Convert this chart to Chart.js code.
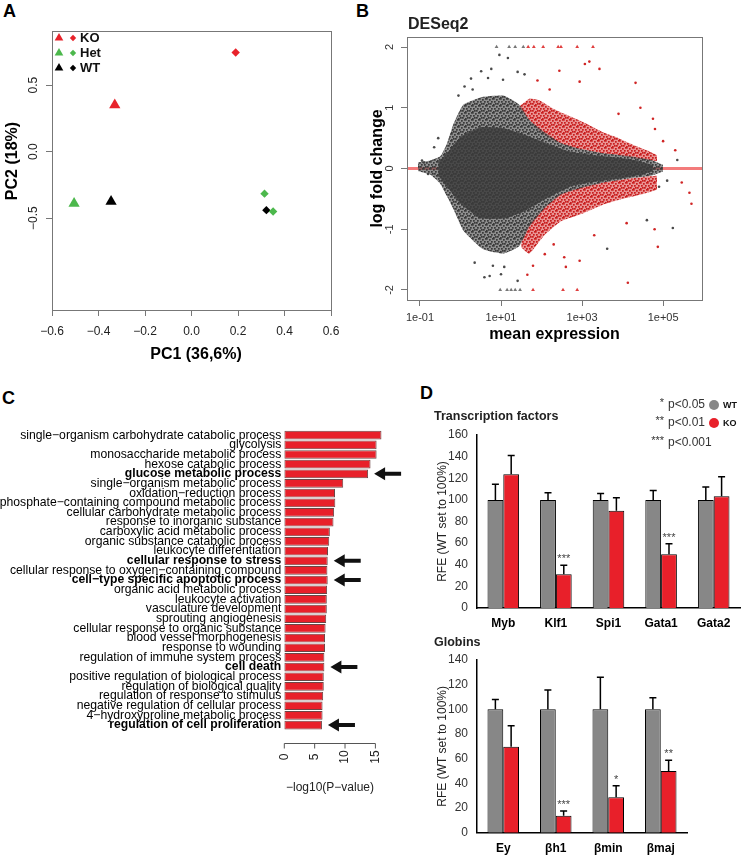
<!DOCTYPE html>
<html>
<head>
<meta charset="utf-8">
<script src="https://cdn.jsdelivr.net/npm/chart.js@4.4.1/dist/chart.umd.min.js"></script>
<style>
  body { margin: 0; background: #fff; width: 742px; height: 855px; position: relative; overflow: hidden;
         font-family: "Liberation Sans", Arial, sans-serif; }
  canvas { position: absolute; }
  .letter { position: absolute; font-weight: bold; font-size: 18px; line-height: 1; }
</style>
</head>
<body>
<div class="letter" style="left:3px;top:2px">A</div>
<div class="letter" style="left:356px;top:2px">B</div>
<div class="letter" style="left:2px;top:389px">C</div>
<div class="letter" style="left:420px;top:384px">D</div>

<canvas id="pca" width="371" height="370" style="left:0;top:0"></canvas>
<canvas id="ma" width="382" height="370" style="left:360px;top:0"></canvas>
<canvas id="go" width="430" height="380" style="left:0;top:420px"></canvas>
<canvas id="tf" width="371" height="245" style="left:371px;top:390px"></canvas>
<canvas id="glob" width="371" height="225" style="left:371px;top:630px"></canvas>

<script>
// ---- A: PCA ----
const pcaGroups = ['KO', 'Het', 'WT'];
const pcaTriPC1 = [-0.33, -0.505, -0.346];
const pcaTriPC2 = [0.35, -0.39, -0.375];
const pcaDiaPC1 = [[0.19], [0.314, 0.351], [0.322]];
const pcaDiaPC2 = [[0.745], [-0.316, -0.45], [-0.44]];
const pcaXTicks = [-0.6, -0.4, -0.2, 0, 0.2, 0.4, 0.6];
const pcaYTicks = [-0.5, 0, 0.5];

// ---- B: MA plot (x = log10 mean expression) ----
const maXTicks = [-1, 1, 3, 5];
const maYTicks = [-2, -1, 0, 1, 2];
const cloudX      = [-1.05, -0.75, -0.5, -0.34, -0.18, 0.07, 0.56, 1.06, 1.45, 1.7, 2.07, 2.48, 2.98, 3.54, 4.2, 4.7, 5.0];
const cloudTop    = [0.1, 0.13, 0.2, 0.4, 0.72, 1.05, 1.18, 1.2, 1.05, 0.8, 0.6, 0.42, 0.32, 0.25, 0.2, 0.14, 0.06];
const cloudBottom = [-0.04, -0.1, -0.25, -0.45, -0.66, -1.02, -1.33, -1.4, -1.28, -0.96, -0.66, -0.43, -0.32, -0.23, -0.16, -0.12, -0.05];
const coreX      = [-0.55, -0.3, 0.0, 0.5, 1.1, 1.6, 2.1, 2.7, 3.3, 3.9, 4.4, 4.75];
const coreTop    = [0.1, 0.28, 0.52, 0.68, 0.66, 0.55, 0.42, 0.28, 0.22, 0.18, 0.12, 0.06];
const coreBottom = [-0.12, -0.33, -0.58, -0.82, -0.82, -0.7, -0.5, -0.3, -0.22, -0.17, -0.11, -0.05];
const upRedX      = [1.45, 1.7, 1.95, 2.3, 2.7, 3.1, 3.5, 3.9, 4.3, 4.6, 4.85];
const upRedTop    = [1.02, 1.15, 1.12, 0.98, 0.86, 0.74, 0.6, 0.5, 0.38, 0.3, 0.22];
const upRedBottom = [1.0, 0.8, 0.62, 0.46, 0.36, 0.3, 0.25, 0.22, 0.17, 0.14, 0.12];
const downRedX      = [1.5, 1.7, 2.07, 2.48, 2.98, 3.5, 4.0, 4.5, 4.85];
const downRedTop    = [-1.2, -0.92, -0.64, -0.42, -0.31, -0.23, -0.18, -0.14, -0.12];
const downRedBottom = [-1.3, -1.4, -1.1, -0.87, -0.75, -0.6, -0.5, -0.42, -0.35];
const grayDotX = [0.26, 0.51, 0.68, 0.76, 0.96, 1.05, 1.17, 1.41, 1.58, 0.1, -0.05, 0.3, 0.59, 0.72, 1.0, 1.08, 1.41, 0.35, 0.8, 5.24, 5.35, 3.62, 4.6, 4.9, 5.1, -0.9, -0.95, -0.8, -0.65, -0.55];
const grayDotY = [1.48, 1.6, 1.49, 1.64, 1.87, 1.46, 1.82, 1.59, 1.55, 1.35, 1.2, 1.3, -1.79, -1.77, -1.74, -1.62, -1.85, -1.55, -1.6, -0.98, 0.14, -1.32, -0.85, -0.3, -0.2, 0.1, 0.13, -0.09, 0.35, 0.5];
const redDotX = [4.32, 4.75, 4.8, 4.44, 5.46, 5.65, 5.7, 4.79, 4.87, 4.13, 3.18, 3.43, 3.07, 2.44, 2.94, 2.56, 2.6, 2.94, 2.08, 1.79, 1.9, 2.2, 3.9, 4.1, 3.3, 2.3, 1.65, 5.3, 5.0];
const redDotY = [1.41, 0.82, 0.65, 1.0, -0.23, -0.4, -0.58, -1.0, -1.29, -1.88, 1.76, 1.64, 1.72, 1.61, 1.43, -1.46, -1.62, -1.52, -1.41, -1.6, 1.45, 1.3, 0.9, -0.9, -1.1, -1.25, -1.75, 0.3, 0.45];
const grayCapX = [0.89, 1.2, 1.35, 1.55, 0.98, 1.15, 1.25, 1.35, 1.47];
const grayCapY = [2, 2, 2, 2, -2, -2, -2, -2, -2];
const redCapX = [1.67, 1.81, 2.04, 2.41, 2.48, 2.88, 3.27, 1.79, 2.53, 2.88];
const redCapY = [2, 2, 2, 2, 2, 2, 2, -2, -2, -2];

// ---- C: GO enrichment ----
const goTerms = [
  'single\u2212organism carbohydrate catabolic process', 'glycolysis', 'monosaccharide metabolic process',
  'hexose catabolic process', 'glucose metabolic process', 'single\u2212organism metabolic process',
  'oxidation\u2212reduction process', 'phosphate\u2212containing compound metabolic process',
  'cellular carbohydrate metabolic process', 'response to inorganic substance', 'carboxylic acid metabolic process',
  'organic substance catabolic process', 'leukocyte differentiation', 'cellular response to stress',
  'cellular response to oxygen\u2212containing compound', 'cell\u2212type specific apoptotic process',
  'organic acid metabolic process', 'leukocyte activation', 'vasculature development', 'sprouting angiogenesis',
  'cellular response to organic substance', 'blood vessel morphogenesis', 'response to wounding',
  'regulation of immune system process', 'cell death', 'positive regulation of biological process',
  'regulation of biological quality', 'regulation of response to stimulus', 'negative regulation of cellular process',
  '4\u2212hydroxyproline metabolic process', 'regulation of cell proliferation'
];
const goLogP = [16.0, 15.2, 15.2, 14.2, 13.8, 9.7, 8.35, 8.4, 8.2, 8.1, 7.5, 7.4, 7.2, 7.15, 7.1, 7.15,
                7.05, 7.0, 7.0, 6.9, 6.8, 6.7, 6.7, 6.6, 6.6, 6.5, 6.5, 6.4, 6.3, 6.3, 6.2];
const goHighlighted = ['glucose metabolic process', 'cellular response to stress',
  'cell\u2212type specific apoptotic process', 'cell death', 'regulation of cell proliferation'];
const goTicks = [0, 5, 10, 15];

// ---- D: qPCR ----
const tfGenes = ['Myb', 'Klf1', 'Spi1', 'Gata1', 'Gata2'];
const tfWT = [100, 100, 100, 100, 100];
const tfWTerr = [14.4, 6.7, 6, 8.6, 12];
const tfKO = [123.7, 31.2, 90, 49.6, 103.3];
const tfKOerr = [17.3, 8.3, 12, 9.9, 18.2];
const tfStars = ['', '***', '', '***', ''];
const globGenes = ['Ey', '\u03b2h1', '\u03b2min', '\u03b2maj'];
const globWT = [100, 100, 100, 100];
const globWTerr = [8, 15.6, 26, 9.4];
const globKO = [69.7, 13.8, 28.7, 50];
const globKOerr = [17, 3.8, 9.3, 8.7];
const globStars = ['', '***', '*', '**'];

const FONT = '"Liberation Sans", Arial, sans-serif';
Chart.defaults.font.family = FONT;
Chart.defaults.color = '#222';
Chart.defaults.animation = false;
Chart.defaults.plugins.legend.display = false;
Chart.defaults.plugins.tooltip.enabled = false;

const RED = '#e8232b', GREEN = '#4cb84c';

function txt(ctx, s, x, y, font, color, align, rot) {
    ctx.save();
    ctx.translate(x, y);
    if (rot) ctx.rotate(rot);
    ctx.font = font;
    ctx.fillStyle = color || '#000';
    ctx.textAlign = align || 'center';
    ctx.textBaseline = 'middle';
    ctx.fillText(s, 0, 0);
    ctx.restore();
}
const pts = (xs, ys) => xs.map((x, i) => ({ x, y: ys[i] }));
const setTicks = vals => s => { s.ticks = vals.map(v => ({ value: v })); };

// speckled fill so the dense scatter areas look like points, not a flat blob
function speckle(dot, bg) {
    const c = document.createElement('canvas');
    c.width = 7; c.height = 7;
    const g = c.getContext('2d');
    g.fillStyle = bg; g.fillRect(0, 0, 7, 7);
    g.fillStyle = dot;
    [[0, 0], [3, 1], [5, 3], [1, 3], [4, 5], [0, 6], [6, 0], [2, 5]].forEach(p => g.fillRect(p[0], p[1], 1.7, 1.7));
    return g.createPattern(c, 'repeat');
}

// ---------- A ----------
const pcaSets = [];
pcaGroups.forEach((g, i) => {
    const col = [RED, GREEN, '#000'][i];
    pcaSets.push({ data: [{ x: pcaTriPC1[i], y: pcaTriPC2[i] }], pointStyle: 'triangle', pointRadius: 6.5,
                   backgroundColor: col, borderWidth: 0 });
    pcaSets.push({ data: pts(pcaDiaPC1[i], pcaDiaPC2[i]), pointStyle: 'rectRot', pointRadius: 4.2,
                   backgroundColor: col, borderWidth: 0 });
});

new Chart(document.getElementById('pca'), {
    type: 'scatter',
    data: { datasets: pcaSets },
    options: {
        responsive: false,
        layout: { padding: { top: 31, right: 40, left: 0, bottom: 0 } },
        scales: {
            x: {
                min: -0.6, max: 0.6,
                afterBuildTicks: setTicks(pcaXTicks),
                ticks: { callback: v => v.toFixed(1).replace('-', '\u2212'), font: { size: 12 }, color: '#222', padding: 8, maxRotation: 0 },
                grid: { drawOnChartArea: false, tickLength: 6, color: '#777' },
                border: { color: '#777' },
                afterFit: s => { s.height = 60; }
            },
            y: {
                min: -1.19, max: 0.906,
                afterBuildTicks: setTicks(pcaYTicks),
                ticks: { display: false },
                grid: { drawOnChartArea: false, tickLength: 6, color: '#777' },
                border: { color: '#777' },
                afterFit: s => { s.width = 52; }
            }
        }
    },
    plugins: [{
        id: 'pcaDecor',
        afterDraw(chart) {
            const ctx = chart.ctx, a = chart.chartArea, y = chart.scales.y;
            ctx.strokeStyle = '#777'; ctx.lineWidth = 1;
            ctx.strokeRect(a.left + 0.5, a.top + 0.5, a.right - a.left, a.bottom - a.top);
            pcaYTicks.forEach(v => txt(ctx, v.toFixed(1).replace('-', '\u2212'), 34, y.getPixelForValue(v),
                '12px ' + FONT, '#222', 'center', -Math.PI / 2));
            txt(ctx, 'PC1 (36,6%)', 196, 355, 'bold 16px ' + FONT);
            txt(ctx, 'PC2 (18%)', 13, 161, 'bold 16px ' + FONT, '#000', 'center', -Math.PI / 2);
            pcaGroups.forEach((g, i) => {
                const col = [RED, GREEN, '#000'][i], yy = 38 + i * 15;
                ctx.fillStyle = col;
                Chart.helpers.drawPoint(ctx, { pointStyle: 'triangle', radius: 5, borderWidth: 0 }, 59, yy);
                ctx.fillStyle = col;
                Chart.helpers.drawPoint(ctx, { pointStyle: 'rectRot', radius: 3.2, borderWidth: 0 }, 73, yy);
                txt(ctx, g, 80, yy, 'bold 13px ' + FONT, '#111', 'left');
            });
        }
    }]
});

// ---------- B ----------
const MA_XMIN = -1.32, MA_XMAX = 5.96;
const band = (xs, lo, hi, fillStyle) => [
    { data: pts(xs, lo), pointRadius: 0, borderColor: 'rgba(0,0,0,0)', borderWidth: 0, fill: false, tension: 0.15 },
    { data: pts(xs, hi), pointRadius: 0, borderColor: 'rgba(0,0,0,0)', borderWidth: 0, fill: '-1', backgroundColor: fillStyle, tension: 0.15 }
];
const dots = (xs, ys, color, style, r) => ({
    data: pts(xs, ys), showLine: false, pointStyle: style, pointRadius: r,
    pointBackgroundColor: color, pointBorderWidth: 0, borderColor: color
});

new Chart(document.getElementById('ma'), {
    type: 'line',
    data: {
        datasets: [
            ...band(cloudX, cloudBottom, cloudTop, speckle('#3a3a3a', 'rgba(75,75,75,0.62)')),
            ...band(upRedX, upRedBottom, upRedTop, speckle('#c81e1e', 'rgba(215,50,50,0.52)')),
            ...band(downRedX, downRedBottom, downRedTop, speckle('#c81e1e', 'rgba(215,50,50,0.52)')),
            ...band(coreX, coreBottom, coreTop, 'rgba(66,66,66,0.97)'),
            { data: [{ x: MA_XMIN, y: 0 }, { x: MA_XMAX, y: 0 }], pointRadius: 0,
              borderColor: 'rgba(240,90,90,0.8)', borderWidth: 3 },
            dots(grayDotX, grayDotY, '#4a4a4a', 'circle', 1.3),
            dots(redDotX, redDotY, '#d02525', 'circle', 1.3),
            dots(grayCapX, grayCapY, '#777', 'triangle', 2.2),
            dots(redCapX, redCapY, '#e04040', 'triangle', 2.2)
        ]
    },
    options: {
        responsive: false,
        layout: { padding: { top: 37, right: 40, left: 0, bottom: 0 } },
        scales: {
            x: {
                type: 'linear', min: MA_XMIN, max: MA_XMAX,
                afterBuildTicks: setTicks(maXTicks),
                ticks: { callback: v => '1e' + (v < 0 ? '-' : '+') + String(Math.abs(v)).padStart(2, '0'),
                         font: { size: 11 }, color: '#333', padding: 5, maxRotation: 0 },
                grid: { drawOnChartArea: false, tickLength: 6, color: '#777' },
                border: { color: '#777' },
                afterFit: s => { s.height = 70; }
            },
            y: {
                min: -2.165, max: 2.165,
                afterBuildTicks: setTicks(maYTicks),
                ticks: { display: false },
                grid: { drawOnChartArea: false, tickLength: 6, color: '#777' },
                border: { color: '#777' },
                afterFit: s => { s.width = 47; }
            }
        }
    },
    plugins: [{
        id: 'maDecor',
        afterDraw(chart) {
            const ctx = chart.ctx, a = chart.chartArea, y = chart.scales.y;
            ctx.strokeStyle = '#777'; ctx.lineWidth = 1;
            ctx.strokeRect(a.left + 0.5, a.top + 0.5, a.right - a.left, a.bottom - a.top);
            maYTicks.forEach(v => txt(ctx, String(v), 30, y.getPixelForValue(v), '11px ' + FONT, '#333', 'center', -Math.PI / 2));
            txt(ctx, 'DESeq2', 48, 25, 'bold 16px ' + FONT, '#222', 'left');
            txt(ctx, 'mean expression', (a.left + a.right) / 2, 335, 'bold 16px ' + FONT);
            txt(ctx, 'log fold change', 18, (a.top + a.bottom) / 2, 'bold 16px ' + FONT, '#000', 'center', -Math.PI / 2);
        }
    }]
});

// ---------- C ----------
new Chart(document.getElementById('go'), {
    type: 'bar',
    data: {
        labels: goTerms,
        datasets: [{ data: goLogP, backgroundColor: '#e8202a', borderColor: '#6d4646', borderWidth: 1,
                     borderSkipped: false, barPercentage: 0.9, categoryPercentage: 1 }]
    },
    options: {
        responsive: false,
        indexAxis: 'y',
        layout: { padding: { top: 9.65, right: 45.5, left: 0, bottom: 70.1 } },
        scales: {
            x: { display: false, min: 0, max: 16.5 },
            y: {
                grid: { display: false, drawTicks: false },
                border: { display: false },
                ticks: {
                    autoSkip: false, padding: 3, color: '#000',
                    font: c => ({ size: 12.2, weight: goHighlighted.includes(goTerms[c.index]) ? 'bold' : 'normal' })
                },
                afterFit: s => { s.width = 284.3; }
            }
        }
    },
    plugins: [{
        id: 'goDecor',
        afterDraw(chart) {
            const ctx = chart.ctx, x = chart.scales.x, meta = chart.getDatasetMeta(0);
            // arrows next to the highlighted terms
            ctx.fillStyle = '#111';
            goTerms.forEach((t, i) => {
                if (!goHighlighted.includes(t)) return;
                const bar = meta.data[i], tx = bar.x + 6, ty = bar.y;
                ctx.beginPath();
                ctx.moveTo(tx, ty);
                ctx.lineTo(tx + 11, ty - 6.5); ctx.lineTo(tx + 11, ty - 2);
                ctx.lineTo(tx + 27, ty - 2); ctx.lineTo(tx + 27, ty + 2);
                ctx.lineTo(tx + 11, ty + 2); ctx.lineTo(tx + 11, ty + 6.5);
                ctx.closePath(); ctx.fill();
            });
            // R-style x axis below the bars
            const ay = 323.5;
            ctx.strokeStyle = '#555'; ctx.lineWidth = 1;
            ctx.beginPath();
            ctx.moveTo(x.getPixelForValue(goTicks[0]), ay);
            ctx.lineTo(x.getPixelForValue(goTicks[goTicks.length - 1]), ay);
            goTicks.forEach(v => { const px = x.getPixelForValue(v); ctx.moveTo(px, ay); ctx.lineTo(px, ay + 5); });
            ctx.stroke();
            goTicks.forEach(v => txt(ctx, String(v), x.getPixelForValue(v), 337, '12px ' + FONT, '#222', 'center', -Math.PI / 2));
            txt(ctx, '\u2212log10(P\u2212value)', 330, 368, '12px ' + FONT, '#222');
        }
    }]
});

// ---------- D ----------
function qpcrChart(id, genes, wt, wtErr, ko, koErr, stars, yMax, pad, xH, labelPad, title, extra) {
    return new Chart(document.getElementById(id), {
        type: 'bar',
        data: {
            labels: genes,
            datasets: [
                { data: wt, backgroundColor: '#878787', borderColor: '#000', borderWidth: 1 },
                { data: ko, backgroundColor: '#e8202a', borderColor: '#000', borderWidth: 1 }
            ]
        },
        options: {
            responsive: false,
            layout: { padding: pad },
            datasets: { bar: { categoryPercentage: 0.6, barPercentage: 1 } },
            scales: {
                x: {
                    grid: { display: false, drawTicks: false },
                    border: { color: '#000', width: 1.5 },
                    ticks: { font: { size: 12, weight: 'bold' }, color: '#000', padding: labelPad },
                    afterFit: s => { s.height = xH; }
                },
                y: {
                    min: 0, max: yMax,
                    grid: { display: false, drawTicks: false },
                    border: { color: '#000', width: 1.5 },
                    ticks: { stepSize: 20, padding: 9, font: { size: 12 }, color: '#333' },
                    afterFit: s => { s.width = 106; }
                }
            }
        },
        plugins: [{
            id: id + 'Decor',
            afterDatasetsDraw(chart) {
                const ctx = chart.ctx, y = chart.scales.y, a = chart.chartArea;
                const errs = [wtErr, koErr];
                ctx.strokeStyle = '#000'; ctx.lineWidth = 1.5;
                chart.data.datasets.forEach((ds, di) => {
                    chart.getDatasetMeta(di).data.forEach((bar, i) => {
                        const top = y.getPixelForValue(ds.data[i] + errs[di][i]);
                        ctx.beginPath();
                        ctx.moveTo(bar.x, bar.y); ctx.lineTo(bar.x, top);
                        ctx.moveTo(bar.x - 3.5, top); ctx.lineTo(bar.x + 3.5, top);
                        ctx.stroke();
                        if (di === 1 && stars[i]) {
                            txt(ctx, stars[i], bar.x, top - 6, '11px ' + FONT, '#444');
                        }
                    });
                });
                txt(ctx, title, 63, a.top - (id === 'tf' ? 18 : 17), 'bold 12.5px ' + FONT, '#222', 'left');
                txt(ctx, 'RFE (WT set to 100%)', 72, (a.top + a.bottom) / 2, '12px ' + FONT, '#222', 'center', -Math.PI / 2);
                if (extra) extra(ctx);
            }
        }]
    });
}

qpcrChart('tf', tfGenes, tfWT, tfWTerr, tfKO, tfKOerr, tfStars, 160,
    { top: 45, right: 2, left: 0, bottom: 0 }, 27, 8, 'Transcription factors', ctx => {
        const rows = [['*', 'p<0.05'], ['**', 'p<0.01'], ['***', 'p<0.001']];
        rows.forEach((r, i) => {
            const yy = [15, 33, 53][i];
            txt(ctx, r[0], 293, yy - 2, '11px ' + FONT, '#333', 'right');
            txt(ctx, r[1], 297, yy, '12px ' + FONT, '#333', 'left');
        });
        [['#878787', 'WT'], ['#e8202a', 'KO']].forEach((l, i) => {
            const yy = [15, 33][i];
            ctx.fillStyle = l[0];
            ctx.beginPath(); ctx.arc(343, yy, 5, 0, Math.PI * 2); ctx.fill();
            txt(ctx, l[1], 352, yy + 0.5, 'bold 9px ' + FONT, '#111', 'left');
        });
    });

qpcrChart('glob', globGenes, globWT, globWTerr, globKO, globKOerr, globStars, 140,
    { top: 30, right: 55, left: 0, bottom: 0 }, 22.3, 9, 'Globins', null);
</script>
</body>
</html>
